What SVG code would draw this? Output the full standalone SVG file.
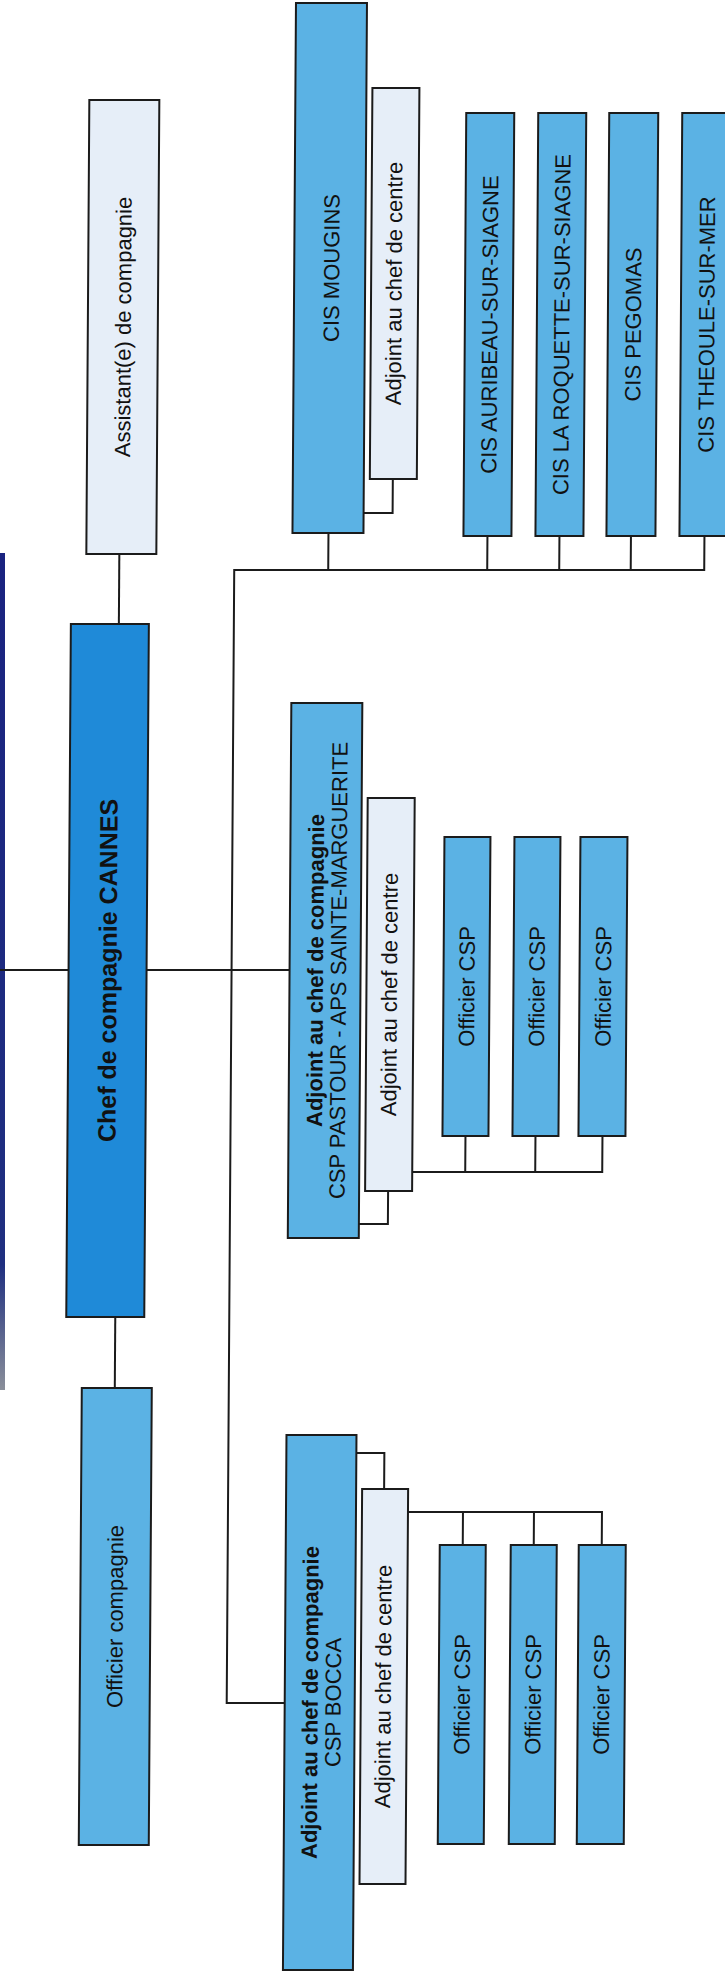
<svg xmlns="http://www.w3.org/2000/svg" width="725" height="1973" viewBox="0 0 725 1973">
<defs>
<style>
.box{stroke:#1b1b1b;stroke-width:2}
.mid{fill:#5bb2e4}
.dark{fill:#1f8ad8}
.light{fill:#e6eef8}
.ln{fill:none;stroke:#1b1b1b;stroke-width:2}
text{font-family:"Liberation Sans",Arial,sans-serif;font-size:22px;fill:#111;text-anchor:middle}
.b{font-weight:bold}
.big{font-size:25px;font-weight:bold}
</style>
<linearGradient id="edge" x1="0" y1="0" x2="0" y2="1">
<stop offset="0" stop-color="#1a2380"/>
<stop offset="0.85" stop-color="#1f2f80"/>
<stop offset="1" stop-color="#8a8f9a"/>
</linearGradient>
</defs>
<rect width="725" height="1973" fill="#ffffff"/>
<rect id="page-edge" x="0" y="553" width="5" height="837" fill="url(#edge)"/>
<g transform="skewX(-0.38)">
<g id="connectors">
<path class="ln" d="M123,554 V624"/>
<path class="ln" d="M124,1317 V1388"/>
<path class="ln" d="M-10,970 H75"/>
<path class="ln" d="M153,970 H296"/>
<path class="ln" d="M708,536 V570 H238 V1703 H296"/>
<path class="ln" d="M332,533 V570 M491,536 V570 M563,536 V570 M634.5,536 V570"/>
<path class="ln" d="M367,513 H396 V479"/>
<path class="ln" d="M367,1224 H396 V1191"/>
<path class="ln" d="M420,1172 H610 V1136 M473,1136 V1172 M543,1136 V1172"/>
<path class="ln" d="M366,1453 H394 V1489"/>
<path class="ln" d="M418,1512 H612 V1545 M473,1545 V1512 M544,1545 V1512"/>
</g>
<g id="n-assistant">
<rect class="box light" x="90" y="100" width="70" height="454"/>
<text transform="translate(133,327) rotate(-90)">Assistant(e) de compagnie</text>
</g>
<g id="n-chef">
<rect class="box dark" x="75" y="624" width="78" height="693"/>
<text class="big" transform="translate(123,970.5) rotate(-90)">Chef de compagnie CANNES</text>
</g>
<g id="n-officier-compagnie">
<rect class="box mid" x="91" y="1388" width="70" height="457"/>
<text transform="translate(133.5,1616.5) rotate(-90)">Officier compagnie</text>
</g>
<g id="n-mougins">
<rect class="box mid" x="296" y="3" width="71" height="530"/>
<text transform="translate(341,268) rotate(-90)">CIS MOUGINS</text>
</g>
<g id="n-mougins-adjoint">
<rect class="box light" x="373" y="88" width="47" height="391"/>
<text transform="translate(403.5,283.5) rotate(-90)">Adjoint au chef de centre</text>
</g>
<g id="n-auribeau">
<rect class="box mid" x="467" y="113" width="48" height="423"/>
<text transform="translate(499.5,324.5) rotate(-90)">CIS AURIBEAU-SUR-SIAGNE</text>
</g>
<g id="n-roquette">
<rect class="box mid" x="539" y="113" width="48" height="423"/>
<text transform="translate(571.5,324.5) rotate(-90)">CIS LA ROQUETTE-SUR-SIAGNE</text>
</g>
<g id="n-pegomas">
<rect class="box mid" x="610" y="113" width="49" height="423"/>
<text transform="translate(643,324.5) rotate(-90)">CIS PEGOMAS</text>
</g>
<g id="n-theoule">
<rect class="box mid" x="683" y="113" width="50" height="423"/>
<text transform="translate(716.5,324.5) rotate(-90)">CIS THEOULE-SUR-MER</text>
</g>
<g id="n-pastour">
<rect class="box mid" x="296" y="703" width="71" height="535"/>
<text class="b" transform="translate(329.5,970.5) rotate(-90)">Adjoint au chef de compagnie</text>
<text transform="translate(352.5,970.5) rotate(-90)">CSP PASTOUR - APS SAINTE-MARGUERITE</text>
</g>
<g id="n-pastour-adjoint">
<rect class="box light" x="373" y="798" width="47" height="393"/>
<text transform="translate(403.5,994.5) rotate(-90)">Adjoint au chef de centre</text>
</g>
<g id="n-pastour-off1">
<rect class="box mid" x="450" y="837" width="46" height="299"/>
<text transform="translate(481,986.5) rotate(-90)">Officier CSP</text>
</g>
<g id="n-pastour-off2">
<rect class="box mid" x="520" y="837" width="46" height="299"/>
<text transform="translate(551,986.5) rotate(-90)">Officier CSP</text>
</g>
<g id="n-pastour-off3">
<rect class="box mid" x="586" y="837" width="47" height="299"/>
<text transform="translate(617.5,986.5) rotate(-90)">Officier CSP</text>
</g>
<g id="n-bocca">
<rect class="box mid" x="296" y="1435" width="70" height="535"/>
<text class="b" transform="translate(329,1702.5) rotate(-90)">Adjoint au chef de compagnie</text>
<text transform="translate(352,1702.5) rotate(-90)">CSP BOCCA</text>
</g>
<g id="n-bocca-adjoint">
<rect class="box light" x="372" y="1489" width="46" height="395"/>
<text transform="translate(402,1686.5) rotate(-90)">Adjoint au chef de centre</text>
</g>
<g id="n-bocca-off1">
<rect class="box mid" x="450" y="1545" width="46" height="299"/>
<text transform="translate(481,1694.5) rotate(-90)">Officier CSP</text>
</g>
<g id="n-bocca-off2">
<rect class="box mid" x="521" y="1545" width="46" height="299"/>
<text transform="translate(552,1694.5) rotate(-90)">Officier CSP</text>
</g>
<g id="n-bocca-off3">
<rect class="box mid" x="589" y="1545" width="47" height="299"/>
<text transform="translate(620.5,1694.5) rotate(-90)">Officier CSP</text>
</g>
</g>
</svg>
